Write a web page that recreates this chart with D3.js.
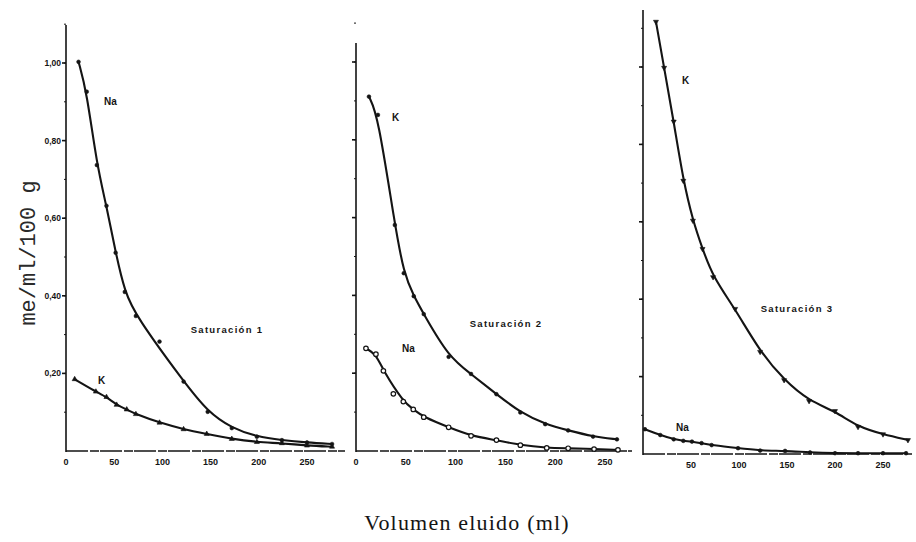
<!DOCTYPE html>
<html>
<head>
<meta charset="utf-8">
<script src="https://cdn.jsdelivr.net/npm/d3@7"></script>
<style>
  body { margin: 0; background: #fff; }
  svg { display: block; }
</style>
</head>
<body>
<script>
// readings taken off the scanned figure (me/100 g vs. ml eluted)
var sat1NaVol = [13, 21.5, 32, 42, 51.5, 61, 72.5, 97, 122, 147, 172, 198, 224, 250, 276];
var sat1Na = [1.003, 0.926, 0.737, 0.632, 0.511, 0.41, 0.348, 0.282, 0.179, 0.101, 0.059, 0.037, 0.028, 0.022, 0.018];
var sat1KVol = [9, 31, 42, 52.5, 63, 72.5, 97, 122, 146, 172, 198, 224, 250, 276];
var sat1K = [0.185, 0.153, 0.139, 0.119, 0.107, 0.095, 0.073, 0.056, 0.044, 0.031, 0.023, 0.020, 0.014, 0.011];

var sat2KVol = [13, 22, 39, 48, 58, 68, 93, 115.5, 141, 165, 190, 213, 238, 262];
var sat2K = [0.911, 0.864, 0.581, 0.457, 0.398, 0.352, 0.242, 0.198, 0.146, 0.099, 0.069, 0.053, 0.037, 0.030];
var sat2NaVol = [10, 20, 27.5, 37.5, 47.5, 57.5, 68, 93, 115.5, 141, 165, 191.5, 213, 239, 263];
var sat2Na = [0.264, 0.249, 0.206, 0.147, 0.127, 0.107, 0.087, 0.061, 0.039, 0.028, 0.015, 0.008, 0.007, 0.005, 0.003];

var sat3KVol = [13.5, 22, 32, 42, 52, 62, 73, 96, 122, 147, 173, 200, 224, 250, 276];
var sat3K = [1.117, 0.998, 0.859, 0.706, 0.603, 0.53, 0.457, 0.375, 0.264, 0.191, 0.137, 0.111, 0.07, 0.051, 0.036];
var sat3NaVol = [2, 18, 32, 42, 51, 61, 71.5, 99, 122, 148, 174, 200, 224, 250, 274];
var sat3Na = [0.064, 0.049, 0.038, 0.034, 0.032, 0.028, 0.023, 0.015, 0.009, 0.008, 0.004, 0.002, 0.002, 0.002, 0.002];

// points that sit off the hand-drawn curve
var offCurve = { s1Na: [97], s2Na: [37.5] };

var xTicks = [0, 50, 100, 150, 200, 250];
var yTicks = [0.2, 0.4, 0.6, 0.8, 1.0];
var yTickLabels = ['0,20', '0,40', '0,60', '0,80', '1,00'];

var width = 916, height = 542;
var ink = '#141414';

var svg = d3.select('body').append('svg')
  .attr('width', width).attr('height', height);

var panels = [
  { x0: 66, x250: 307, xEnd: 345, yBase: 451, y1: 63, top: 25, xLabels: xTicks, yLabels: true,
    title: 'Saturación  1', titleX: 227, titleY: 333,
    series: [
      { key: 's1Na', vol: sat1NaVol, val: sat1Na, sym: d3.symbolCircle, open: false, label: 'Na', lx: 104, ly: 105 },
      { key: 's1K', vol: sat1KVol, val: sat1K, sym: d3.symbolTriangle, open: false, label: 'K', lx: 98, ly: 384 }
    ] },
  { x0: 356, x250: 605, xEnd: 632, yBase: 451, y1: 62, top: 43, xLabels: xTicks, yLabels: false,
    title: 'Saturación  2', titleX: 506, titleY: 327,
    series: [
      { key: 's2K', vol: sat2KVol, val: sat2K, sym: d3.symbolCircle, open: false, label: 'K', lx: 392, ly: 121 },
      { key: 's2Na', vol: sat2NaVol, val: sat2Na, sym: d3.symbolCircle, open: true, label: 'Na', lx: 402, ly: 352 }
    ] },
  { x0: 643, x250: 883, xEnd: 912, yBase: 454, y1: 67, top: 10, xLabels: xTicks.slice(1), yLabels: false,
    title: 'Saturación  3', titleX: 797, titleY: 312,
    series: [
      { key: 's3K', vol: sat3KVol, val: sat3K, sym: d3.symbolTriangle, open: false, flip: true, label: 'K', lx: 682, ly: 84 },
      { key: 's3Na', vol: sat3NaVol, val: sat3Na, sym: d3.symbolCircle, open: false, label: 'Na', lx: 676, ly: 431 }
    ] }
];

panels.forEach(function(p) {
  var x = d3.scaleLinear().domain([0, 250]).range([p.x0, p.x250]);
  var y = d3.scaleLinear().domain([0, 1]).range([p.yBase, p.y1]);
  var g = svg.append('g');

  // axes drawn as plain lines like the original plate
  g.append('line')
    .attr('x1', p.x0).attr('x2', p.x0)
    .attr('y1', p.top).attr('y2', p.yBase + 1)
    .attr('stroke', ink).attr('stroke-width', 1.6);
  g.append('line')
    .attr('x1', p.x0).attr('x2', p.xEnd)
    .attr('y1', p.yBase).attr('y2', p.yBase)
    .attr('stroke', ink).attr('stroke-width', 1.5)
    .attr('stroke-dasharray', '22 2 9 1');

  // major and minor y ticks
  var minor = d3.range(0.1, 1.15, 0.1);
  g.selectAll('.minor').data(minor).enter().append('line')
    .attr('x1', p.x0 - 2).attr('x2', p.x0)
    .attr('y1', function(d) { return y(d); })
    .attr('y2', function(d) { return y(d); })
    .attr('stroke', ink).attr('stroke-width', 1);
  g.selectAll('.major').data(yTicks).enter().append('line')
    .attr('x1', p.x0 - 4).attr('x2', p.x0)
    .attr('y1', function(d) { return y(d); })
    .attr('y2', function(d) { return y(d); })
    .attr('stroke', ink).attr('stroke-width', 1.6);

  if (p.yLabels) {
    g.selectAll('.ylab').data(yTicks).enter().append('text')
      .attr('x', p.x0 - 5)
      .attr('y', function(d) { return y(d) + 3; })
      .attr('text-anchor', 'end')
      .attr('font-family', 'Liberation Sans, Arial, sans-serif')
      .attr('font-size', 8.5).attr('font-weight', 'bold')
      .attr('fill', ink)
      .text(function(d, i) { return yTickLabels[i]; });
  }

  g.selectAll('.xlab').data(p.xLabels).enter().append('text')
    .attr('x', function(d) { return x(d); })
    .attr('y', p.yBase + 14)
    .attr('text-anchor', 'middle')
    .attr('font-family', 'Liberation Sans, Arial, sans-serif')
    .attr('font-size', 9).attr('font-weight', 'bold')
    .attr('fill', ink)
    .text(function(d) { return d; });

  var line = d3.line()
    .x(function(d) { return x(d[0]); })
    .y(function(d) { return y(d[1]); })
    .curve(d3.curveBasis);

  p.series.forEach(function(s) {
    var pts = s.vol.map(function(v, i) { return [v, s.val[i]]; });
    var skip = offCurve[s.key] || [];
    var onCurve = pts.filter(function(d) { return skip.indexOf(d[0]) < 0; });

    g.append('path')
      .attr('d', line(onCurve))
      .attr('fill', 'none')
      .attr('stroke', ink)
      .attr('stroke-width', 2.1);

    g.selectAll('.pt-' + s.key).data(pts).enter().append('path')
      .attr('d', d3.symbol().type(s.sym).size(s.open ? 16 : 11))
      .attr('transform', function(d) {
        return 'translate(' + x(d[0]) + ',' + y(d[1]) + ')' + (s.flip ? ' rotate(180)' : '');
      })
      .attr('fill', s.open ? '#fff' : ink)
      .attr('stroke', ink)
      .attr('stroke-width', s.open ? 1.2 : 0.6);

    g.append('text')
      .attr('x', s.lx).attr('y', s.ly)
      .attr('font-family', 'Liberation Sans, Arial, sans-serif')
      .attr('font-size', 10).attr('font-weight', 'bold')
      .attr('fill', ink)
      .text(s.label);
  });

  g.append('text')
    .attr('x', p.titleX).attr('y', p.titleY)
    .attr('text-anchor', 'middle')
    .attr('font-family', 'Liberation Sans, Arial, sans-serif')
    .attr('font-size', 9.5).attr('font-weight', 'bold')
    .attr('letter-spacing', 1.3)
    .attr('fill', ink)
    .text(p.title);
});

// axis titles
svg.append('text')
  .attr('transform', 'translate(35,253) rotate(-90)')
  .attr('text-anchor', 'middle')
  .attr('font-family', 'Liberation Mono, DejaVu Sans Mono, monospace')
  .attr('font-size', 22)
  .attr('fill', '#2a2a2a')
  .text('me/ml/100 g');

svg.append('text')
  .attr('x', 467).attr('y', 530)
  .attr('text-anchor', 'middle')
  .attr('font-family', 'Liberation Serif, Times New Roman, serif')
  .attr('font-size', 22)
  .attr('letter-spacing', 1.2)
  .attr('fill', ink)
  .text('Volumen  eluido  (ml)');
</script>
</body>
</html>
